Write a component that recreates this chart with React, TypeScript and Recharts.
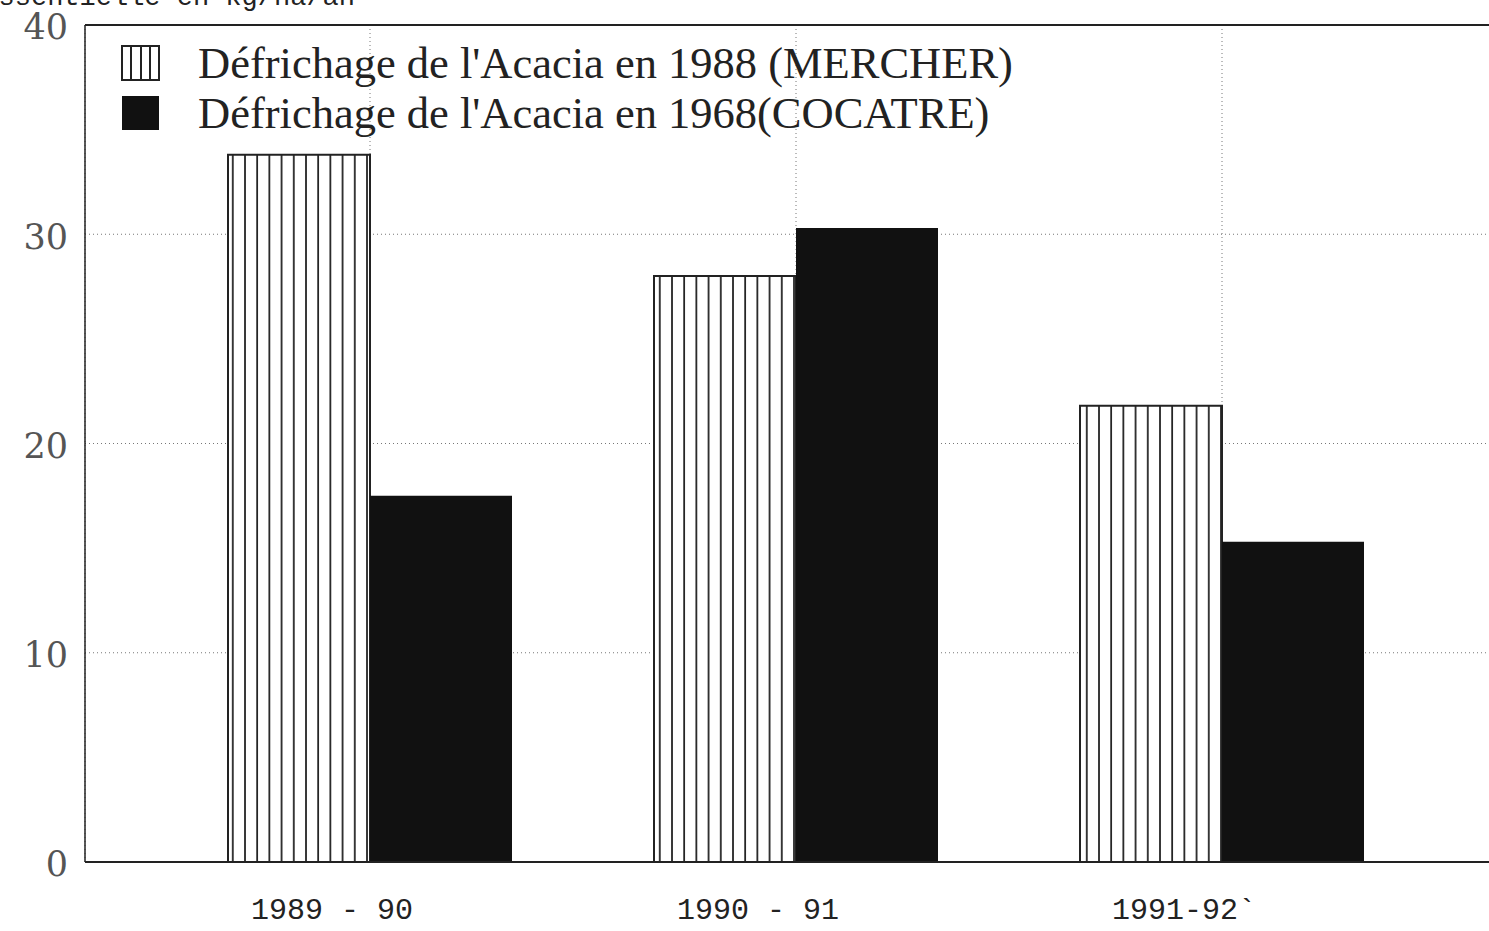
import { BarChart, Bar, XAxis, YAxis, CartesianGrid, ReferenceLine, Legend } from 'recharts'

const campaigns = ['1989 - 90', '1990 - 91', '1991-92`']
const mercher = [33.8, 28.0, 21.8]
const cocatre = [17.5, 30.3, 15.3]
const yTicks = [0, 10, 20, 30, 40]
const seriesNames = [
  "Défrichage de l'Acacia en 1988 (MERCHER)",
  "Défrichage de l'Acacia en 1968(COCATRE)",
]

const data = campaigns.map((c, i) => ({ name: c, mercher: mercher[i], cocatre: cocatre[i] }))

const LegendBox = () => (
  <div style={{ display: 'flex', flexDirection: 'column' }}>
    {seriesNames.map((n, i) => (
      <div key={n} style={{ display: 'flex', alignItems: 'center', height: 50 }}>
        <svg width={40} height={36} style={{ marginRight: 37 }}>
          {i === 0 ? (
            <g stroke="#222" strokeWidth={2} fill="none">
              <rect x={1} y={1} width={37} height={34} />
              <line x1={10} y1={1} x2={10} y2={35} />
              <line x1={20} y1={1} x2={20} y2={35} />
              <line x1={29} y1={1} x2={29} y2={35} />
            </g>
          ) : (
            <rect x={1} y={1} width={37} height={34} fill="#111" />
          )}
        </svg>
        <span style={{ fontFamily: '"Liberation Serif", serif', fontSize: 44.5, color: '#222', whiteSpace: 'nowrap' }}>
          {n}
        </span>
      </div>
    ))}
  </div>
)

export default function App() {
  return (
    <div style={{ position: 'relative', width: 1489, height: 931, overflow: 'hidden', background: '#fff' }}>
      <style>{`body{margin:0}`}</style>
      <svg width={0} height={0} style={{ position: 'absolute' }}>
        <defs>
          <pattern id="stripes" patternUnits="userSpaceOnUse" width={12.2} height={10}>
            <rect width={12.2} height={10} fill="#fff" />
            <line x1={1} y1={0} x2={1} y2={10} stroke="#222" strokeWidth={1.8} />
          </pattern>
        </defs>
      </svg>
      <svg width={400} height={12} style={{ position: 'absolute', left: 0, top: 0 }}>
        <text x={355} y={5} textAnchor="end" fontFamily='"Liberation Mono", monospace' fontSize={27} fill="#222">
          huile essentielle en kg/ha/an
        </text>
      </svg>
      <BarChart
        width={1520}
        height={931}
        data={data}
        margin={{ top: 25, right: 13, bottom: 0, left: 0 }}
        barSize={142}
        barGap={0}
      >
        <CartesianGrid stroke="#777" strokeDasharray="1 3" />
        <XAxis
          dataKey="name"
          padding={{ left: 72, right: 72 }}
          height={69}
          tickLine={false}
          tickSize={0}
          tickMargin={36}
          axisLine={{ stroke: '#222', strokeWidth: 2 }}
          tick={{ fontFamily: '"Liberation Mono", monospace', fontSize: 30, fill: '#222', dx: -38 }}
        />
        <YAxis
          domain={[0, 40]}
          ticks={yTicks}
          width={85}
          tickLine={false}
          tickSize={0}
          tickMargin={17}
          axisLine={{ stroke: '#222', strokeWidth: 1.5 }}
          tick={{ fontFamily: '"DejaVu Serif", serif', fontSize: 35, fill: '#555', dy: 2 }}
        />
        <ReferenceLine y={40} stroke="#222" strokeWidth={2} />
        <Legend
          layout="horizontal"
          verticalAlign="middle"
          align="center"
          wrapperStyle={{ top: 38, left: 121, width: 'auto' }}
          content={() => <LegendBox />}
        />
        <Bar dataKey="mercher" name={seriesNames[0]} fill="url(#stripes)" stroke="#222" strokeWidth={2} isAnimationActive={false} />
        <Bar dataKey="cocatre" name={seriesNames[1]} fill="#111" isAnimationActive={false} />
      </BarChart>
    </div>
  )
}
